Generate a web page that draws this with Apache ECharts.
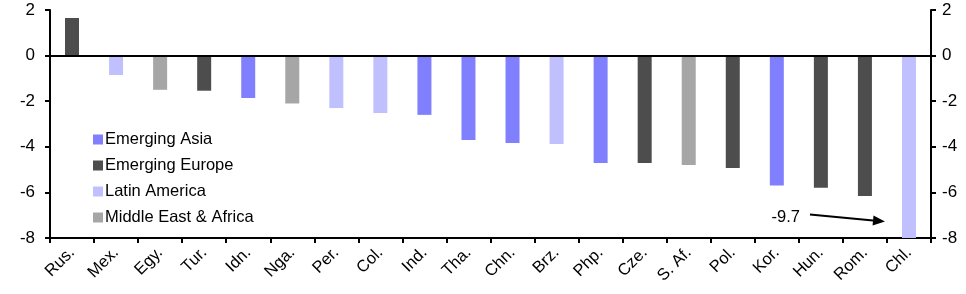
<!DOCTYPE html>
<html><head><meta charset="utf-8">
<script src="https://cdn.jsdelivr.net/npm/echarts@6/dist/echarts.min.js"></script>
<style>html,body{margin:0;padding:0;background:#fff}#c{width:966px;height:294px}</style>
</head><body><div id="c"></div>
<script>
const categories = ['Rus.','Mex.','Egy.','Tur.','Idn.','Nga.','Per.','Col.','Ind.','Tha.','Chn.','Brz.','Php.','Cze.','S. Af.','Pol.','Kor.','Hun.','Rom.','Chl.'];
const regions = ['Emerging Europe','Latin America','Middle East & Africa','Emerging Europe','Emerging Asia','Middle East & Africa','Latin America','Latin America','Emerging Asia','Emerging Asia','Emerging Asia','Latin America','Emerging Asia','Emerging Europe','Middle East & Africa','Emerging Europe','Emerging Asia','Emerging Europe','Emerging Europe','Latin America'];
const values = [1.65,-0.85,-1.5,-1.54,-1.86,-2.1,-2.3,-2.52,-2.6,-3.7,-3.83,-3.88,-4.71,-4.71,-4.8,-4.93,-5.7,-5.8,-6.16,-9.7];
const seriesNames = ['Emerging Asia','Emerging Europe','Latin America','Middle East & Africa'];
const seriesColors = ['#8080FF','#4D4D4D','#C0C0FF','#A6A6A6'];
const yTicks = [-8,-6,-4,-2,0,2];
const annotationText = '-9.7';

const chart = echarts.init(document.getElementById('c'));
const FONT = 'Liberation Sans, Arial, sans-serif';
const series = seriesNames.map((name, si) => ({
  name, type: 'bar', stack: 'all', barWidth: 14,
  itemStyle: { color: seriesColors[si] },
  data: values.map((v, i) => regions[i] === name ? v : '-'),
  clip: true,
  markLine: si === 0 ? {
    silent: true, symbol: 'none', label: { show: false },
    lineStyle: { color: '#000', width: 2, type: 'solid' },
    data: [{ yAxis: 0 }]
  } : undefined
}));
const yAxisBase = {
  type: 'value', min: yTicks[0], max: yTicks[yTicks.length - 1], interval: 2,
  splitLine: { show: false },
  axisLine: { show: true, lineStyle: { color: '#000', width: 2 } },
  axisTick: { show: true, length: 5, lineStyle: { color: '#000', width: 2 } },
  axisLabel: { color: '#000', fontSize: 17, fontFamily: FONT }
};
chart.setOption({
  animation: false,
  grid: { left: 50, right: 35, top: 10, bottom: 56, containLabel: false },
  legend: {
    orient: 'vertical', left: 88, top: 126, itemWidth: 10, itemHeight: 10, itemGap: 9,
    icon: 'rect', data: seriesNames,
    textStyle: { color: '#000', fontSize: 16.5, fontFamily: FONT, padding: [0,0,0,-3] }
  },
  xAxis: {
    type: 'category', data: categories,
    axisLine: { onZero: false, lineStyle: { color: '#000', width: 2 } },
    axisTick: { show: true, length: 5, alignWithLabel: false, lineStyle: { color: '#000', width: 2 } },
    axisLabel: { color: '#000', fontSize: 16.5, fontFamily: FONT, rotate: 45, margin: 12, interval: 0 }
  },
  yAxis: [
    Object.assign({}, yAxisBase, { position: 'left', axisLabel: Object.assign({}, yAxisBase.axisLabel, { margin: 15 }) }),
    Object.assign({}, yAxisBase, { position: 'right', axisLabel: Object.assign({}, yAxisBase.axisLabel, { margin: 11 }) })
  ],
  series
});

function placeAnnotation() {
  const last = categories[categories.length - 1];
  const tip = chart.convertToPixel({ gridIndex: 0 }, [last, -7.28]);
  const start = chart.convertToPixel({ gridIndex: 0 }, [last, -6.97]);
  const tx = tip[0] - 24, ty = tip[1];
  const sx = start[0] - 99, sy = start[1];
  const ang = Math.atan2(ty - sy, tx - sx);
  const L = 12, W = 5;
  const bx = tx - L * Math.cos(ang), by = ty - L * Math.sin(ang);
  const px = -Math.sin(ang) * W, py = Math.cos(ang) * W;
  chart.setOption({
    graphic: [
      { type: 'line', shape: { x1: sx, y1: sy, x2: bx, y2: by }, style: { stroke: '#000', lineWidth: 2 }, silent: true },
      { type: 'polygon', shape: { points: [[tx, ty], [bx + px, by + py], [bx - px, by - py]] }, style: { fill: '#000' }, silent: true },
      { type: 'text', x: sx - 10, y: sy + 3, style: { text: annotationText, fill: '#000', font: '16.5px ' + FONT, align: 'right', verticalAlign: 'middle' }, silent: true }
    ]
  });
}
placeAnnotation();
</script></body></html>
